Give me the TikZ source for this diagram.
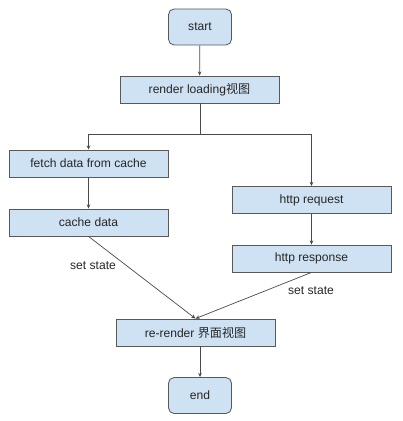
\documentclass[tikz,border=0pt]{standalone}
\usepackage{fontspec}
\setmainfont{Liberation Sans}
\newfontfamily\cjk{Noto Sans CJK SC}
\usetikzlibrary{positioning,arrows.meta}
\definecolor{boxfill}{HTML}{CFE2F3}
\definecolor{boxline}{HTML}{595959}
\definecolor{wire}{HTML}{4A4A4A}

\begin{document}
\begin{tikzpicture}[x=0.025cm,y=-0.025cm,
    font=\fontsize{8.6}{10}\selectfont,
    stepbox/.style={draw=boxline,fill=boxfill,line width=0.6pt,
      minimum width=3.975cm,minimum height=0.675cm,inner sep=0pt,text=black!85},
    termbox/.style={stepbox,rounded corners=4pt,
      minimum width=1.575cm,minimum height=0.9cm},
    wire/.style={draw=wire,line width=0.5pt},
    arr/.style={wire,-{Stealth[length=3pt,width=2.6pt]}},
    lbl/.style={inner sep=1pt,text=black!85}]
            \useasboundingbox (0,0) rectangle (402,421);
            % boxes
            \node[termbox] (start) at (200,27) {start};
            \node[stepbox] (loading) at (199.5,89.5) {render loading{\cjk 视图}};
            \node[stepbox] (fetch) at (88.5,163.5) {fetch data from cache};
            \node[stepbox] (cache) at (88.5,222.5) {cache data};
            \node[stepbox] (req) at (311.5,200) {http request};
            \node[stepbox] (resp) at (311.5,258.5) {http response};
            \node[stepbox] (rerender) at (195.5,332.5) {re-render {\cjk 界面视图}};
            \node[termbox] (end) at (200,395.5) {end};
            \coordinate (split) at (200,134);
            % connectors
            \draw[arr] (start) -- (loading);
            \draw[wire] (loading.south -| split) -- (split);
            \draw[arr] (split) -| (fetch);
            \draw[arr] (split) -| (req);
            \draw[arr] (fetch) -- (cache);
            \draw[arr] (req) -- (resp);
            \draw[arr] (cache.south) -- (rerender.north);
            \draw[arr] (resp.south) -- (rerender.north);
            \draw[arr] (rerender.south -| end) -- (end);
            \node[lbl] (setl) at (93,266) {set state};
            \node[lbl] (setr) at (311,291) {set state};
          \end{tikzpicture}
\end{document}
